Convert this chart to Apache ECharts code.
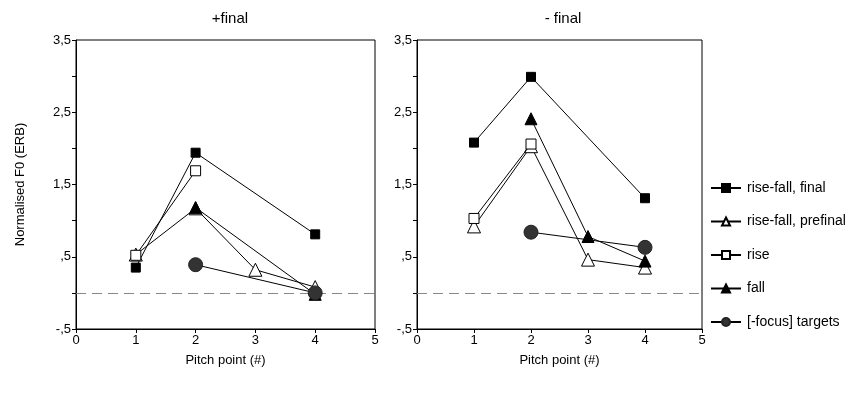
<!DOCTYPE html>
<html>
<head>
<meta charset="utf-8">
<script src="https://cdn.jsdelivr.net/npm/echarts@6/dist/echarts.min.js"></script>
<style>html,body{margin:0;padding:0;background:#fff}#c{width:854px;height:396px}</style>
</head>
<body>
<div id="c"></div>
<script>
// Panel titles
const panelTitles = ['+final', '- final'];
// Series names
const seriesNames = ['rise-fall, final', 'rise-fall, prefinal', 'rise', 'fall', '[-focus] targets'];
// x ticks 0..5, y ticks -0.5..3.5 step 0.5
const xTicks = [0, 1, 2, 3, 4, 5];
const yTickLabels = ['-,5', ',5', '1,5', '2,5', '3,5'];

// +final panel: [pitch point, value]
const plusRiseFallFinal = [[1, 0.35], [2, 1.94], [4, 0.81]];
const plusRiseFallPrefinal = [[1, 0.53], [2, 1.17], [3, 0.32], [4, 0.08]];
const plusRise = [[1, 0.52], [2, 1.69]];
const plusFall = [[2, 1.18], [4, -0.02]];
const plusFocus = [[2, 0.39], [4, 0.0]];

// - final panel
const minusRiseFallFinal = [[1, 2.08], [2, 2.99], [4, 1.31]];
const minusRiseFallPrefinal = [[1, 0.92], [2, 2.03], [3, 0.46], [4, 0.35]];
const minusRise = [[1, 1.03], [2, 2.06]];
const minusFall = [[2, 2.41], [3, 0.78], [4, 0.44]];
const minusFocus = [[2, 0.84], [4, 0.63]];

const FONT = 'Liberation Sans';
const styles = [
  {symbol: 'rect', symbolSize: 9, itemStyle: {color: '#000', borderColor: '#000', borderWidth: 1}},
  {symbol: 'triangle', symbolSize: 13, itemStyle: {color: '#fff', borderColor: '#000', borderWidth: 1}},
  {symbol: 'rect', symbolSize: 10, itemStyle: {color: '#fff', borderColor: '#000', borderWidth: 1}},
  {symbol: 'triangle', symbolSize: 12, itemStyle: {color: '#000', borderColor: '#000', borderWidth: 1}},
  {symbol: 'circle', symbolSize: 14, itemStyle: {color: '#333', borderColor: '#222', borderWidth: 1}}
];
const panelData = [
  [plusRiseFallFinal, plusRiseFallPrefinal, plusRise, plusFall, plusFocus],
  [minusRiseFallFinal, minusRiseFallPrefinal, minusRise, minusFall, minusFocus]
];

const grids = [
  {left: 76, top: 40, width: 299, height: 289, show: true, borderColor: '#000', borderWidth: 1, backgroundColor: 'transparent'},
  {left: 417, top: 40, width: 285, height: 289, show: true, borderColor: '#000', borderWidth: 1, backgroundColor: 'transparent'}
];

function yLabel(v) {
  const r = Math.round(v * 2);
  if (r % 2 === 0) return '';
  const idx = (r + 1) / 2;
  return yTickLabels[idx] || '';
}

const xAxes = grids.map((g, i) => ({
  gridIndex: i, type: 'value', min: xTicks[0], max: xTicks[xTicks.length - 1], interval: 1,
  name: 'Pitch point (#)', nameLocation: 'middle', nameGap: 25,
  nameTextStyle: {fontFamily: FONT, fontSize: 13, color: '#000'},
  axisLine: {show: true, onZero: false, lineStyle: {color: '#000', width: 1}},
  axisTick: {show: true, inside: false, length: 4, lineStyle: {color: '#000'}},
  axisLabel: {fontFamily: FONT, fontSize: 13, color: '#000', margin: 5},
  splitLine: {show: false}
}));
const yAxes = grids.map((g, i) => ({
  gridIndex: i, type: 'value', min: -0.5, max: 3.5, interval: 0.5,
  name: i === 0 ? 'Normalised F0 (ERB)' : '', nameLocation: 'middle', nameGap: 49,
  nameTextStyle: {fontFamily: FONT, fontSize: 13, color: '#000'},
  axisLine: {show: true, onZero: false, lineStyle: {color: '#000', width: 1}},
  axisTick: {show: true, inside: false, length: 4, lineStyle: {color: '#000'}},
  axisLabel: {fontFamily: FONT, fontSize: 13, color: '#000', margin: 5, formatter: yLabel, showMinLabel: true, showMaxLabel: true},
  splitLine: {show: false}
}));

const series = [];
panelData.forEach((arr, p) => {
  arr.forEach((data, k) => {
    const s = Object.assign({
      name: seriesNames[k], type: 'line', xAxisIndex: p, yAxisIndex: p, data: data,
      lineStyle: {color: '#000', width: 1}, showAllSymbol: true, animation: false, z: 2 + k
    }, styles[k]);
    if (k === 0) {
      s.markLine = {silent: true, symbol: ['none', 'none'], label: {show: false},
        lineStyle: {color: '#888', type: [10, 6], width: 1}, data: [{yAxis: 0}], animation: false};
    }
    series.push(s);
  });
});

const chart = echarts.init(document.getElementById('c'));
chart.setOption({
  animation: false,
  backgroundColor: '#fff',
  title: [
    {text: panelTitles[0], left: 225, top: 6, textAlign: 'center', textStyle: {fontFamily: FONT, fontSize: 15, fontWeight: 'normal', color: '#000'}},
    {text: panelTitles[1], left: 558, top: 6, textAlign: 'center', textStyle: {fontFamily: FONT, fontSize: 15, fontWeight: 'normal', color: '#000'}}
  ],
  legend: {
    orient: 'vertical', left: 705, top: 176, itemWidth: 30, itemHeight: 10, itemGap: 19.5,
    textStyle: {fontFamily: FONT, fontSize: 14, color: '#000', padding: [0, 0, 0, 1]},
    data: seriesNames
  },
  grid: grids, xAxis: xAxes, yAxis: yAxes, series: series
});
</script>
</body>
</html>
